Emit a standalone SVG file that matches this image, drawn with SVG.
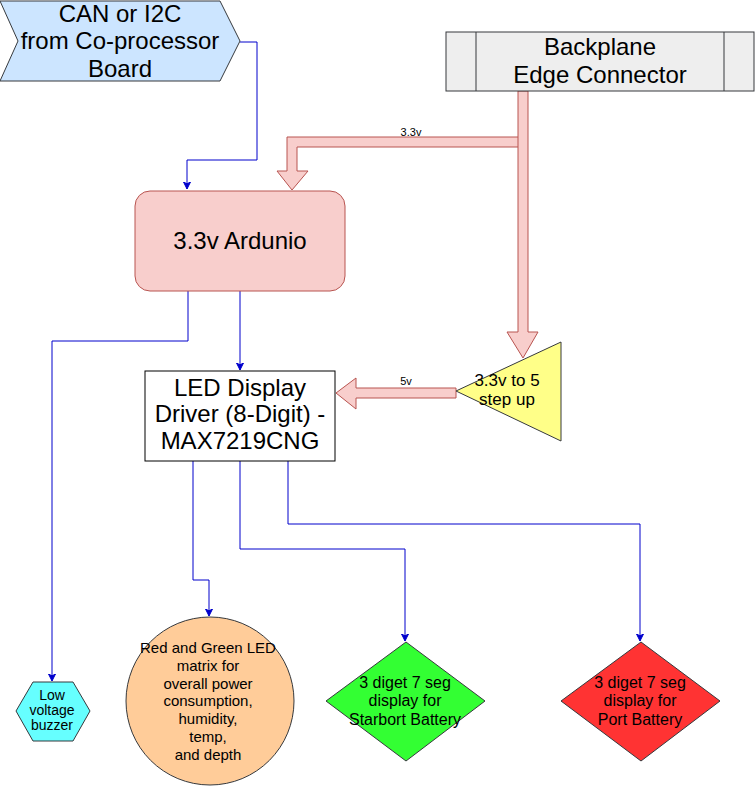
<svg xmlns="http://www.w3.org/2000/svg" width="756" height="787" viewBox="0 0 756 787">
<defs>
<style>
text{font-family:"Liberation Sans",Arial,Helvetica,sans-serif;fill:#000;text-anchor:middle}
.big{font-size:24px}
.su{font-size:17px}
.dm{font-size:16px}
.ci{font-size:15px}
.bz{font-size:14px}
.sm{font-size:11px}
.c{fill:none;stroke:#0000cc;stroke-width:1}
.pw{fill:#f8cecc;stroke:#b85450;stroke-width:1}
.ol{stroke:#36393d;stroke-width:1}
</style>
<marker id="ah" markerWidth="8" markerHeight="8" refX="7" refY="4" orient="auto" markerUnits="userSpaceOnUse">
<path d="M0,0.5 L7,4 L0,7.5 L1.8,4 Z" fill="#0000cc" stroke="#0000cc" stroke-width="1"/>
</marker>
</defs>
<rect width="756" height="787" fill="#fff"/>

<g id="connectors">
<path class="c" d="M240,42 H257 V160 H187 V189" marker-end="url(#ah)"/>
<path class="c" d="M240,291 V370" marker-end="url(#ah)"/>
<path class="c" d="M188,291 V341 H52 V681" marker-end="url(#ah)"/>
<path class="c" d="M193,461 V580 H209 V616" marker-end="url(#ah)"/>
<path class="c" d="M240,461 V549 H405 V641" marker-end="url(#ah)"/>
<path class="c" d="M288,461 V524 H640 V641" marker-end="url(#ah)"/>
<polygon class="pw" points="523,137 287,137 287,171 277,171 292,190 308,171 297,171 297,147 523,147"/>
<polygon class="pw" points="518,91 528,91 528,332 538,332 523,358 507,332 518,332"/>
<polygon class="pw" points="456,388 356,388 356,378 336,393 356,409 356,398 456,398"/>
<text class="sm" x="411" y="136">3.3v</text>
<text class="sm" x="406" y="385">5v</text>
</g>

<g id="can">
<polygon class="ol" fill="#cce5ff" points="0,1 220,1 240,41 220,81 0,81 18,41"/>
<text class="big" x="120" y="22">CAN or I2C</text>
<text class="big" x="120" y="49">from Co-processor</text>
<text class="big" x="120" y="77">Board</text>
</g>

<g id="backplane">
<rect class="ol" fill="#eeeeee" x="446" y="32" width="308" height="59"/>
<line class="ol" x1="476" y1="32" x2="476" y2="91"/>
<line class="ol" x1="724" y1="32" x2="724" y2="91"/>
<text class="big" x="600" y="55">Backplane</text>
<text class="big" x="600" y="83">Edge Connector</text>
</g>

<g id="arduino">
<rect x="135" y="191" width="210" height="100" rx="15" ry="15" fill="#f8cecc" stroke="#b85450"/>
<text class="big" x="240" y="249">3.3v Ardunio</text>
</g>

<g id="stepup">
<polygon class="ol" fill="#ffff88" points="456,391 561,342 561,441"/>
<text class="su" x="507" y="386">3.3v to 5</text>
<text class="su" x="507" y="405">step up</text>
</g>

<g id="driver">
<rect x="145" y="371" width="190" height="90" fill="#fff" stroke="#000"/>
<text class="big" x="240" y="396">LED Display</text>
<text class="big" x="240" y="422">Driver (8-Digit) -</text>
<text class="big" x="240" y="449">MAX7219CNG</text>
</g>

<g id="buzzer">
<polygon class="ol" fill="#66ffff" points="16,711 33,682 73,682 90,711 73,741 33,741"/>
<text class="bz" x="52" y="700">Low</text>
<text class="bz" x="52" y="715">voltage</text>
<text class="bz" x="52" y="730">buzzer</text>
</g>

<g id="matrix">
<circle class="ol" fill="#ffcc99" cx="210" cy="701" r="84"/>
<text class="ci" x="208" y="653">Red and Green LED</text>
<text class="ci" x="208" y="671">matrix for</text>
<text class="ci" x="208" y="689">overall power</text>
<text class="ci" x="208" y="706">consumption,</text>
<text class="ci" x="208" y="724">humidity,</text>
<text class="ci" x="208" y="742">temp,</text>
<text class="ci" x="208" y="760">and depth</text>
</g>

<g id="starboard">
<polygon class="ol" fill="#33ff33" points="406,642 485,701 406,761 326,701"/>
<text class="dm" x="405" y="688">3 diget 7 seg</text>
<text class="dm" x="405" y="706">display for</text>
<text class="dm" x="405" y="725">Starbort Battery</text>
</g>

<g id="port">
<polygon class="ol" fill="#ff3333" points="641,642 720,701 641,761 561,701"/>
<text class="dm" x="640" y="688">3 diget 7 seg</text>
<text class="dm" x="640" y="706">display for</text>
<text class="dm" x="640" y="725">Port Battery</text>
</g>
</svg>
